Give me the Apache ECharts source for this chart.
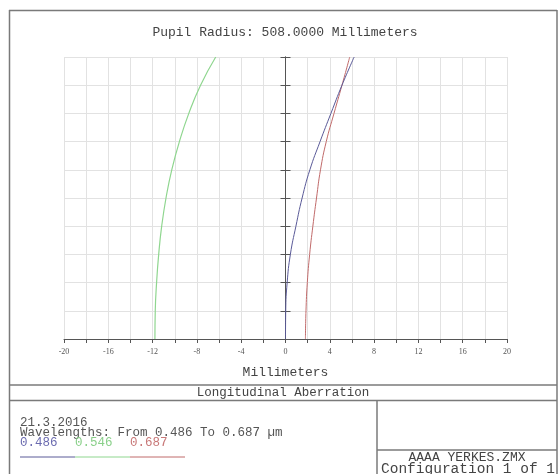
<!DOCTYPE html>
<html>
<head>
<meta charset="utf-8">
<script src="https://cdn.jsdelivr.net/npm/echarts@6/dist/echarts.min.js"></script>
<style>
html,body{margin:0;padding:0;background:#fff;}
#chart{width:558px;height:474px;}
</style>
</head>
<body>
<div id="chart"></div>
<script>
// Normalized pupil coordinate (y values)
var pupil = [0, 0.1, 0.2, 0.3, 0.4, 0.5, 0.6, 0.7, 0.8, 0.9, 1.0];
// Longitudinal aberration (mm) for each wavelength
var wl486 = [0, 0.02, 0.15, 0.44, 0.94, 1.5, 2.2, 3.12, 4.1, 5.1, 6.2];
var wl546 = [-11.79, -11.76, -11.64, -11.45, -11.18, -10.79, -10.27, -9.58, -8.73, -7.67, -6.3];
var wl687 = [1.8, 1.85, 1.97, 2.18, 2.47, 2.8, 3.16, 3.68, 4.38, 5.1, 5.8];
var wavelengths = ['0.486', '0.546', '0.687'];
var xTickLabels = [-20, -16, -12, -8, -4, 0, 4, 8, 12, 16, 20];
var titleText = 'Pupil Radius: 508.0000 Millimeters';
var xAxisName = 'Millimeters';
var panelTitle = 'Longitudinal Aberration';
var dateText = '21.3.2016';
var wlText = 'Wavelengths: From 0.486 To 0.687 \u00b5m';
var fileText = 'AAAA YERKES.ZMX';
var configText = 'Configuration 1 of 1';

var colors = ['#5a5a98', '#8fd68f', '#c06a6a'];
var textColors = ['#6b6bb0', '#8ad08a', '#c87878'];
var mono = '"Liberation Mono", "Courier New", monospace';

function pairs(xs) { return xs.map(function (v, i) { return [v, pupil[i]]; }); }

var chart = echarts.init(document.getElementById('chart'));
var frameColor = '#7a7a7a';
var graphics = [
  // outer frame
  { type: 'line', shape: { x1: 9, y1: 10.5, x2: 557, y2: 10.5 }, style: { stroke: frameColor, lineWidth: 1.5 } },
  { type: 'line', shape: { x1: 9.5, y1: 10, x2: 9.5, y2: 474 }, style: { stroke: frameColor, lineWidth: 1.5 } },
  { type: 'line', shape: { x1: 557, y1: 10, x2: 557, y2: 474 }, style: { stroke: frameColor, lineWidth: 1.5 } },
  { type: 'line', shape: { x1: 9, y1: 385, x2: 557, y2: 385 }, style: { stroke: frameColor, lineWidth: 1.5 } },
  { type: 'line', shape: { x1: 9, y1: 400.5, x2: 557, y2: 400.5 }, style: { stroke: frameColor, lineWidth: 1.5 } },
  { type: 'line', shape: { x1: 377, y1: 400, x2: 377, y2: 474 }, style: { stroke: frameColor, lineWidth: 1.5 } },
  { type: 'line', shape: { x1: 377, y1: 450, x2: 557, y2: 450 }, style: { stroke: frameColor, lineWidth: 1.5 } },
  // texts
  { type: 'text', x: 285, y: 33, style: { text: titleText, fill: '#444', font: '13px ' + mono, textAlign: 'center', textVerticalAlign: 'middle' } },
  { type: 'text', x: 283, y: 393, style: { text: panelTitle, fill: '#444', font: '12.5px ' + mono, textAlign: 'center', textVerticalAlign: 'middle' } },
  { type: 'text', x: 20, y: 423, style: { text: dateText, fill: '#555', font: '12.5px ' + mono, textAlign: 'left', textVerticalAlign: 'middle' } },
  { type: 'text', x: 20, y: 433, style: { text: wlText, fill: '#555', font: '12.5px ' + mono, textAlign: 'left', textVerticalAlign: 'middle' } },
  { type: 'text', x: 467, y: 458, style: { text: fileText, fill: '#444', font: '13px ' + mono, textAlign: 'center', textVerticalAlign: 'middle' } },
  { type: 'text', x: 468, y: 469, style: { text: configText, fill: '#444', font: '14.5px ' + mono, textAlign: 'center', textVerticalAlign: 'middle' } }
];
wavelengths.forEach(function (w, i) {
  graphics.push({ type: 'text', x: 20 + i * 55, y: 443, style: { text: w, fill: textColors[i], font: '12.5px ' + mono, textAlign: 'left', textVerticalAlign: 'middle' } });
  graphics.push({ type: 'line', shape: { x1: 20 + i * 55, y1: 457, x2: 75 + i * 55, y2: 457 }, style: { stroke: colors[i], lineWidth: 1 } });
});

var option = {
  animation: false,
  backgroundColor: '#fff',
  grid: { left: 64, right: 51, top: 57, bottom: 135, containLabel: false },
  xAxis: [
    {
      type: 'value', min: -20, max: 20, interval: 2,
      name: xAxisName, nameLocation: 'middle', nameGap: 27,
      nameTextStyle: { fontFamily: mono, fontSize: 13, color: '#444' },
      axisLine: { show: true, onZero: false, lineStyle: { color: '#555', width: 1 } },
      axisTick: { show: true, length: 4, lineStyle: { color: '#555' } },
      axisLabel: {
        margin: 9, fontSize: 8, color: '#555', fontFamily: '"Liberation Serif", serif',
        formatter: function (v) { return xTickLabels.indexOf(v) >= 0 ? String(v) : ''; }
      },
      splitLine: { show: true, lineStyle: { color: '#e2e2e2', width: 1 } }
    },
    {
      type: 'value', min: -20, max: 20, interval: 2, position: 'top',
      axisLine: { show: false, onZero: false },
      axisTick: { show: false }, axisLabel: { show: false }, splitLine: { show: false }
    }
  ],
  yAxis: [
    {
      type: 'value', min: 0, max: 1, interval: 0.1,
      axisLine: { show: true, onZero: true, onZeroAxisIndex: 0, lineStyle: { color: '#555', width: 1 } },
      axisTick: { show: true, inside: false, length: 5, lineStyle: { color: '#555' } },
      axisLabel: { show: false },
      splitLine: { show: true, lineStyle: { color: '#e2e2e2', width: 1 } }
    },
    {
      type: 'value', min: 0, max: 1, interval: 0.1, position: 'right',
      axisLine: { show: true, onZero: true, onZeroAxisIndex: 1, lineStyle: { color: '#555', width: 1 } },
      axisTick: { show: true, inside: false, length: 5, lineStyle: { color: '#555' } },
      axisLabel: { show: false },
      splitLine: { show: false }
    }
  ],
  series: [
    { type: 'line', data: pairs(wl546), smooth: true, showSymbol: false, lineStyle: { color: colors[1], width: 1.2 }, z: 3 },
    { type: 'line', data: pairs(wl687), smooth: true, showSymbol: false, lineStyle: { color: colors[2], width: 1 }, z: 4 },
    { type: 'line', data: pairs(wl486), smooth: true, showSymbol: false, lineStyle: { color: colors[0], width: 1 }, z: 5 }
  ],
  graphic: graphics
};
chart.setOption(option);
</script>
</body>
</html>
